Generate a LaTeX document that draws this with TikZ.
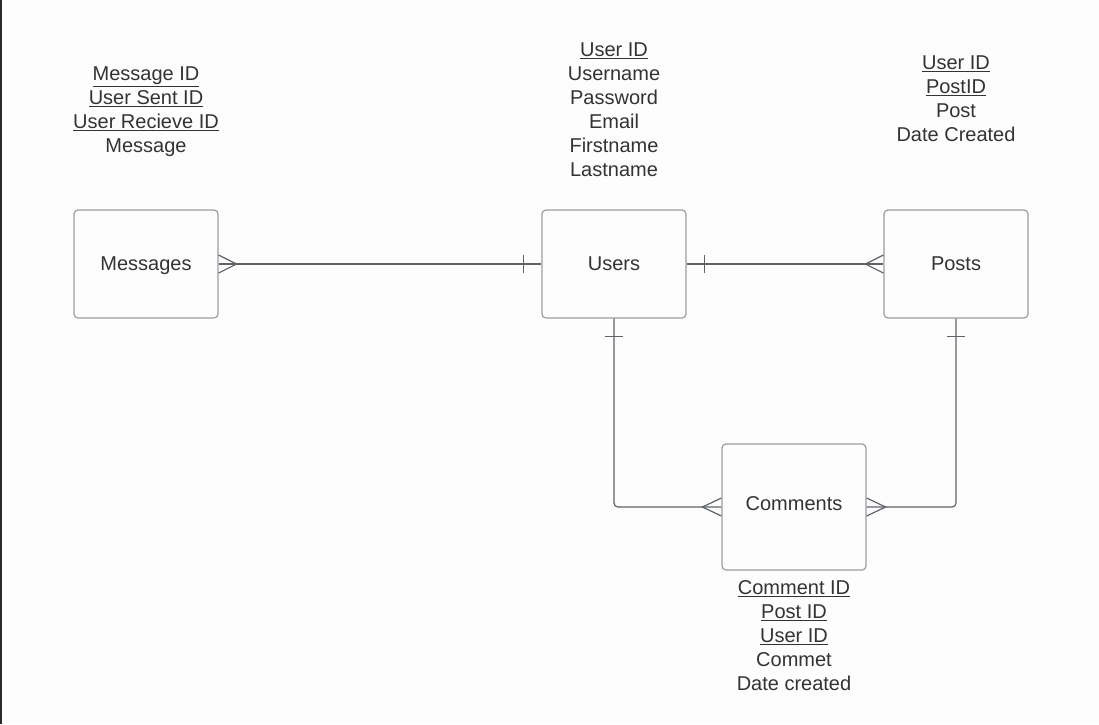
\documentclass[tikz,border=0pt]{standalone}
\usepackage{fontspec}
\setmainfont{Liberation Sans}
\usetikzlibrary{calc}
\definecolor{ink}{HTML}{333333}
\definecolor{boxline}{HTML}{9A9DA1}
\definecolor{wirecol}{HTML}{5F6368}
\definecolor{paper}{HTML}{FDFDFD}
\definecolor{edgebar}{HTML}{2B2B2B}
\begin{document}
\begin{tikzpicture}[x=1pt,y=-1pt,
  entity/.style={draw=boxline, line width=1.2pt, rounded corners=4pt,
    minimum width=144pt, minimum height=108pt, inner sep=0pt,
    text height=14.5pt, text depth=2pt,
    text=ink, font=\fontsize{20}{24}\selectfont},
  attrs/.style={align=center, anchor=north, inner sep=0pt, text=ink,
    font=\fontsize{20}{24}\selectfont},
  wire/.style={draw=wirecol, line width=1.2pt},
]
% page
\useasboundingbox (0,0) rectangle (1099,724);
\fill[paper] (0,0) rectangle (1099,724);
\fill[edgebar] (0,0) rectangle (2,724);

% entities
\node[entity] (msg) at (146,264) {Messages};
\node[entity] (usr) at (614,264) {Users};
\node[entity] (pst) at (956,264) {Posts};
\node[entity, minimum height=126pt, text depth=8pt] (com) at (794,507) {Comments};

% attribute lists
\node[attrs] (msgattr) at (146,67)
  {\underline{Message ID}\\\underline{User Sent ID}\\\underline{User Recieve ID}\\Message};
\node[attrs] (usrattr) at (614,43)
  {\underline{User ID}\\Username\\Password\\Email\\Firstname\\Lastname};
\node[attrs] (pstattr) at (956,56)
  {\underline{User ID}\\\underline{PostID}\\Post\\Date Created};
\node[attrs] (comattr) at (794,580)
  {\underline{Comment ID}\\\underline{Post ID}\\\underline{User ID}\\Commet\\Date created};

% Messages (many) -- Users (one)
\draw[wire] (msg.east) -- (usr.west);
\draw[wire] ($(msg.east)+(0,-9)$) -- ($(msg.east)+(18,0)$) -- ($(msg.east)+(0,9)$);
\draw[wire] ($(usr.west)+(-18,-9)$) -- ($(usr.west)+(-18,9)$);

% Users (one) -- Posts (many)
\draw[wire] (usr.east) -- (pst.west);
\draw[wire] ($(usr.east)+(18,-9)$) -- ($(usr.east)+(18,9)$);
\draw[wire] ($(pst.west)+(0,-9)$) -- ($(pst.west)+(-18,0)$) -- ($(pst.west)+(0,9)$);

% Users (one) -- Comments (many)
\draw[wire, rounded corners=4pt] (usr.south) |- (com.west);
\draw[wire] ($(usr.south)+(-9,18)$) -- ($(usr.south)+(9,18)$);
\draw[wire] ($(com.west)+(0,-9)$) -- ($(com.west)+(-19,0)$) -- ($(com.west)+(0,9)$);

% Posts (one) -- Comments (many)
\draw[wire, rounded corners=4pt] (pst.south) |- (com.east);
\draw[wire] ($(pst.south)+(-9,18)$) -- ($(pst.south)+(9,18)$);
\draw[wire] ($(com.east)+(0,-9)$) -- ($(com.east)+(19,0)$) -- ($(com.east)+(0,9)$);
\end{tikzpicture}
\end{document}
